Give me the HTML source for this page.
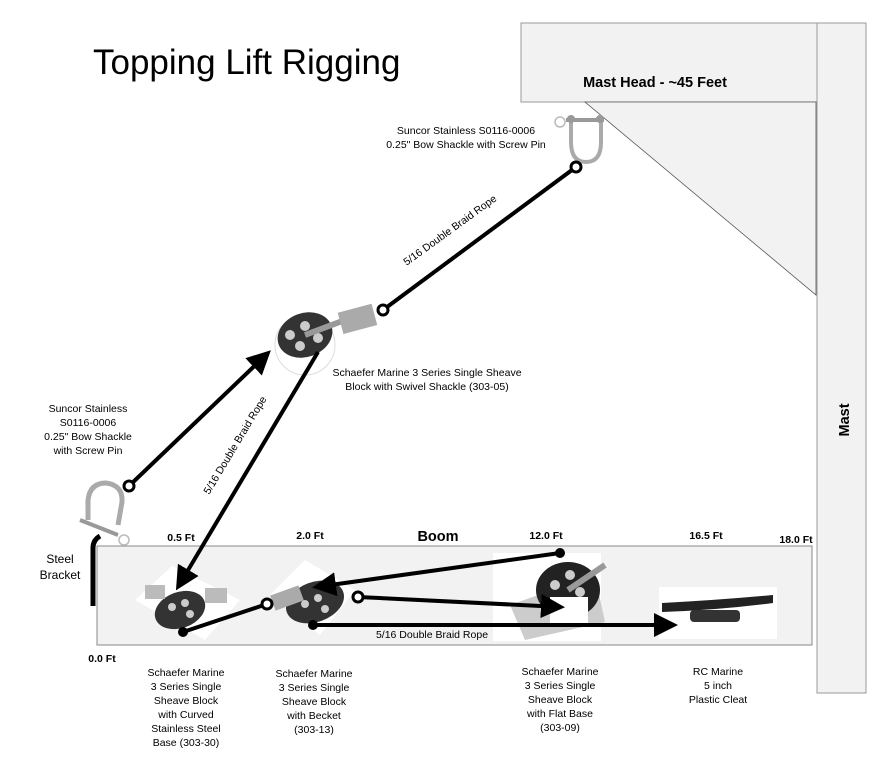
<!DOCTYPE html>
<html><head><meta charset="utf-8"><style>
body{margin:0;background:#fff;}
svg{display:block;font-family:"Liberation Sans",sans-serif;}
</style></head><body>
<svg width="889" height="773" viewBox="0 0 889 773" xmlns="http://www.w3.org/2000/svg">
<defs>
<marker id="ah" markerWidth="6" markerHeight="6" refX="5" refY="3" orient="auto" markerUnits="strokeWidth">
<path d="M0,0 L6,3 L0,6 z" fill="#000"/></marker>
</defs>
<rect x="521" y="23" width="296" height="79" fill="#f2f2f2" stroke="#999" stroke-width="1"/>
<rect x="817" y="23" width="49" height="670" fill="#f2f2f2" stroke="#999" stroke-width="1"/>
<polygon points="585,102 816,102 816,295" fill="#f2f2f2" stroke="#555" stroke-width="0.8"/>
<text x="655" y="87" font-size="14.5" font-weight="bold" text-anchor="middle">Mast Head - ~45 Feet</text>
<text transform="translate(849,420) rotate(-90)" font-size="14.5" font-weight="bold" text-anchor="middle">Mast</text>
<text x="93" y="74" font-size="35">Topping Lift Rigging</text>
<rect x="97" y="546" width="715" height="99" fill="#f2f2f2" stroke="#888" stroke-width="1"/>
<text x="438" y="541" font-size="14.5" font-weight="bold" text-anchor="middle">Boom</text>
<g font-size="10.5" font-weight="bold" text-anchor="middle">
<text x="181" y="541">0.5 Ft</text><text x="310" y="539">2.0 Ft</text>
<text x="546" y="539">12.0 Ft</text><text x="706" y="539">16.5 Ft</text>
<text x="796" y="543">18.0 Ft</text><text x="102" y="662">0.0 Ft</text>
</g>
<path d="M93,606 L93,548 Q93,540 100,536" stroke="#000" stroke-width="5" fill="none"/>
<text x="60" y="563" font-size="12" text-anchor="middle">Steel</text>
<text x="60" y="579" font-size="12" text-anchor="middle">Bracket</text>
<rect x="493" y="553" width="108" height="88" fill="#fff"/>
<rect x="659" y="587" width="118" height="52" fill="#fff"/>
<polygon points="135,600 172,566 240,600 205,640" fill="#fff"/>
<polygon points="270,595 305,560 355,590 320,635" fill="#fff"/>
<!-- top shackle -->
<path d="M571,122 L571,142 Q571,162 586,162 Q601,162 601,142 L601,122" fill="none" stroke="#aaa" stroke-width="4"/>
<line x1="566" y1="120" x2="604" y2="120" stroke="#999" stroke-width="4"/>
<circle cx="571" cy="119" r="4" fill="#999"/><circle cx="600" cy="119" r="4" fill="#999"/>
<circle cx="560" cy="122" r="5" fill="none" stroke="#bbb" stroke-width="1.5"/>
<!-- left shackle -->
<path d="M88,520 L88,500 Q90,483 106,483 Q123,485 122,502 L118,525" fill="none" stroke="#aaa" stroke-width="5"/>
<line x1="80" y1="520" x2="118" y2="535" stroke="#999" stroke-width="4"/>
<circle cx="124" cy="540" r="5" fill="none" stroke="#bbb" stroke-width="1.5"/>
<!-- middle block -->
<circle cx="305" cy="345" r="30" fill="#fff" stroke="#ddd"/>
<ellipse cx="305" cy="335" rx="28" ry="22" fill="#333" transform="rotate(-20 305 335)"/>
<g fill="#ccc"><circle cx="290" cy="335" r="5"/><circle cx="305" cy="326" r="5"/><circle cx="318" cy="338" r="5"/><circle cx="300" cy="346" r="5"/></g>
<line x1="305" y1="335" x2="345" y2="320" stroke="#999" stroke-width="6"/>
<rect x="340" y="308" width="35" height="22" fill="#aaa" transform="rotate(-15 357 319)"/>
<!-- lower blocks -->
<ellipse cx="180" cy="610" rx="26" ry="18" fill="#333" transform="rotate(-20 180 610)"/>
<g fill="#ccc"><circle cx="172" cy="607" r="4"/><circle cx="185" cy="603" r="4"/><circle cx="190" cy="614" r="4"/></g>
<rect x="145" y="585" width="20" height="14" fill="#bbb"/><rect x="205" y="588" width="22" height="15" fill="#bbb"/>
<ellipse cx="315" cy="602" rx="30" ry="20" fill="#333" transform="rotate(-20 315 602)"/>
<g fill="#ccc"><circle cx="305" cy="604" r="4"/><circle cx="318" cy="598" r="4"/><circle cx="325" cy="609" r="4"/></g>
<rect x="272" y="590" width="30" height="16" fill="#aaa" transform="rotate(-20 287 598)"/>
<polygon points="510,605 595,575 605,622 525,640" fill="#ccc"/>
<ellipse cx="568" cy="590" rx="32" ry="28" fill="#222"/>
<g fill="#ccc"><circle cx="555" cy="585" r="5"/><circle cx="570" cy="575" r="5"/><circle cx="580" cy="592" r="5"/></g>
<rect x="550" y="597" width="38" height="28" fill="#fff"/>
<line x1="568" y1="590" x2="605" y2="565" stroke="#999" stroke-width="6"/>
<path d="M662,603 Q720,600 773,595 L773,603 Q720,610 662,612 z" fill="#222"/>
<rect x="690" y="610" width="50" height="12" rx="4" fill="#333"/>
<g stroke="#000" stroke-width="4" fill="none">
<line x1="576" y1="167" x2="383" y2="310"/>
<line x1="129" y1="486" x2="268" y2="353" marker-end="url(#ah)"/>
<line x1="318" y1="352" x2="178" y2="587" marker-end="url(#ah)"/>
<line x1="183" y1="632" x2="267" y2="604"/>
<line x1="560" y1="553" x2="316" y2="587" marker-end="url(#ah)"/>
<line x1="358" y1="597" x2="561" y2="607" marker-end="url(#ah)"/>
<line x1="313" y1="625" x2="674" y2="625" marker-end="url(#ah)"/>
</g>
<g fill="#fff" stroke="#000" stroke-width="3">
<circle cx="576" cy="167" r="5"/><circle cx="383" cy="310" r="5"/>
<circle cx="129" cy="486" r="5"/><circle cx="267" cy="604" r="5"/><circle cx="358" cy="597" r="5"/>
</g>
<g fill="#000"><circle cx="183" cy="632" r="5"/><circle cx="560" cy="553" r="5"/><circle cx="313" cy="625" r="5"/></g>
<text transform="translate(452,233) rotate(-36)" font-size="10.5" text-anchor="middle">5/16 Double Braid Rope</text>
<text transform="translate(238,447) rotate(-59)" font-size="10.5" text-anchor="middle">5/16 Double Braid Rope</text>
<text x="432" y="638" font-size="10.5" text-anchor="middle">5/16 Double Braid Rope</text>
<g font-size="10.5" text-anchor="middle">
<text x="466" y="134">Suncor Stainless S0116-0006</text>
<text x="466" y="148">0.25" Bow Shackle with Screw Pin</text>
<text x="427" y="376">Schaefer Marine 3 Series Single Sheave</text>
<text x="427" y="390">Block with Swivel Shackle (303-05)</text>
<text x="88" y="412">Suncor Stainless</text><text x="88" y="426">S0116-0006</text>
<text x="88" y="440">0.25" Bow Shackle</text><text x="88" y="454">with Screw Pin</text>
<text x="186" y="676">Schaefer Marine</text><text x="186" y="690">3 Series Single</text>
<text x="186" y="704">Sheave Block</text><text x="186" y="718">with Curved</text>
<text x="186" y="732">Stainless Steel</text><text x="186" y="746">Base (303-30)</text>
<text x="314" y="677">Schaefer Marine</text><text x="314" y="691">3 Series Single</text>
<text x="314" y="705">Sheave Block</text><text x="314" y="719">with Becket</text><text x="314" y="733">(303-13)</text>
<text x="560" y="675">Schaefer Marine</text><text x="560" y="689">3 Series Single</text>
<text x="560" y="703">Sheave Block</text><text x="560" y="717">with Flat Base</text><text x="560" y="731">(303-09)</text>
<text x="718" y="675">RC Marine</text><text x="718" y="689">5 inch</text><text x="718" y="703">Plastic Cleat</text>
</g>
</svg>
</body></html>
